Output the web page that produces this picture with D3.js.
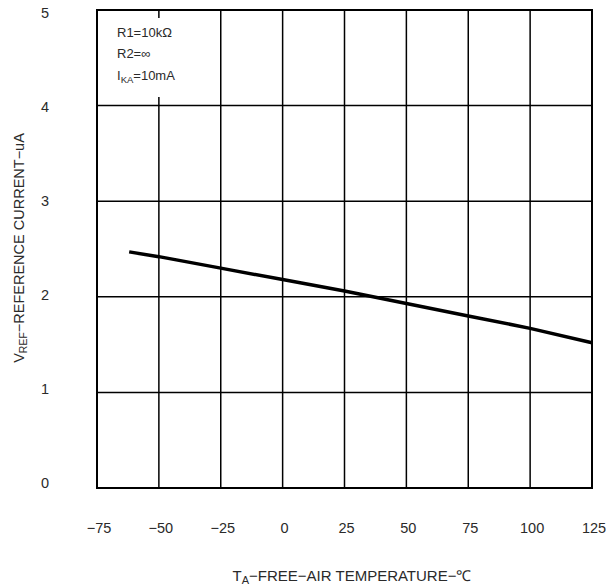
<!DOCTYPE html>
<html>
<head>
<meta charset="utf-8">
<script src="https://cdn.jsdelivr.net/npm/d3@7"></script>
<style>
  body { margin: 0; background: #fff; }
  text { font-family: "Liberation Sans", Arial, sans-serif; fill: #2a2a2a; }
</style>
</head>
<body>
<svg width="606" height="586"></svg>
<script>
// temperature (°C) vs reference current (uA)
const temps = [-62, -50, -25, 0, 25, 50, 75, 100, 125];
const current = [2.47, 2.42, 2.30, 2.18, 2.06, 1.93, 1.80, 1.67, 1.52];
const xTicks = [-75, -50, -25, 0, 25, 50, 75, 100, 125];
const yTicks = [0, 1, 2, 3, 4, 5];
const notes = ["R1=10kΩ", "R2=∞", "IKA=10mA"];

const svg = d3.select("svg");
const mLeft = 97, mRight = 592, mTop = 10, mBottom = 488;

const x = d3.scaleLinear().domain([-75, 125]).range([mLeft, mRight]);
const y = d3.scaleLinear().domain([0, 5]).range([mBottom, mTop]);
// labels on the left sit on a slightly tighter spacing than the grid
const yLab = d3.scaleLinear().domain([0, 5]).range([483, 13]);

// grid
const g = svg.append("g");
g.selectAll(".vx").data(xTicks.slice(1, -1)).enter().append("line")
  .attr("x1", d => x(d)).attr("x2", d => x(d))
  .attr("y1", mTop).attr("y2", mBottom)
  .attr("stroke", "#000").attr("stroke-width", 1.5);
g.selectAll(".hy").data(yTicks.slice(1, -1)).enter().append("line")
  .attr("x1", mLeft).attr("x2", mRight)
  .attr("y1", d => y(d)).attr("y2", d => y(d))
  .attr("stroke", "#000").attr("stroke-width", 1.5);

// legend box covers grid
svg.append("rect")
  .attr("x", mLeft + 1).attr("y", 18)
  .attr("width", 110).attr("height", 79)
  .attr("fill", "#fff");

svg.append("rect")
  .attr("x", mLeft).attr("y", mTop)
  .attr("width", mRight - mLeft).attr("height", mBottom - mTop)
  .attr("fill", "none").attr("stroke", "#000").attr("stroke-width", 2);

// data line
const line = d3.line().x((d, i) => x(temps[i])).y(d => y(d));
svg.append("path").datum(current)
  .attr("d", line)
  .attr("fill", "none").attr("stroke", "#000").attr("stroke-width", 3.5);

// tick labels
svg.selectAll(".xt").data(xTicks).enter().append("text")
  .attr("x", d => x(d) + 2).attr("y", 533)
  .attr("text-anchor", "middle").attr("font-size", 14.5)
  .text(d => d < 0 ? "\u2212" + Math.abs(d) : d);
svg.selectAll(".yt").data(yTicks).enter().append("text")
  .attr("x", 45).attr("y", d => yLab(d) + 5)
  .attr("text-anchor", "middle").attr("font-size", 14.5)
  .text(d => d);

// notes
const nt = svg.append("g").attr("font-size", 13);
nt.append("text").attr("x", 117).attr("y", 37).text(notes[0]);
nt.append("text").attr("x", 117).attr("y", 58).text(notes[1]);
const ika = nt.append("text").attr("x", 117).attr("y", 80);
ika.append("tspan").text("I");
ika.append("tspan").attr("font-size", 9.5).attr("dy", 3).text("KA");
ika.append("tspan").attr("dy", -3).text("=10mA");

// axis titles
const xt = svg.append("text").attr("x", 352).attr("y", 581)
  .attr("text-anchor", "middle").attr("font-size", 15);
xt.append("tspan").text("T");
xt.append("tspan").attr("font-size", 11).attr("dy", 3).text("A");
xt.append("tspan").attr("dy", -3).text("\u2212FREE\u2212AIR TEMPERATURE\u2212\u2103");

const yt = svg.append("text")
  .attr("transform", "translate(24,248) rotate(-90)")
  .attr("text-anchor", "middle").attr("font-size", 14.5);
yt.append("tspan").text("V");
yt.append("tspan").attr("font-size", 10.5).attr("dy", 3).text("REF");
yt.append("tspan").attr("dy", -3).text("\u2212REFERENCE CURRENT\u2212uA");
</script>
</body>
</html>
